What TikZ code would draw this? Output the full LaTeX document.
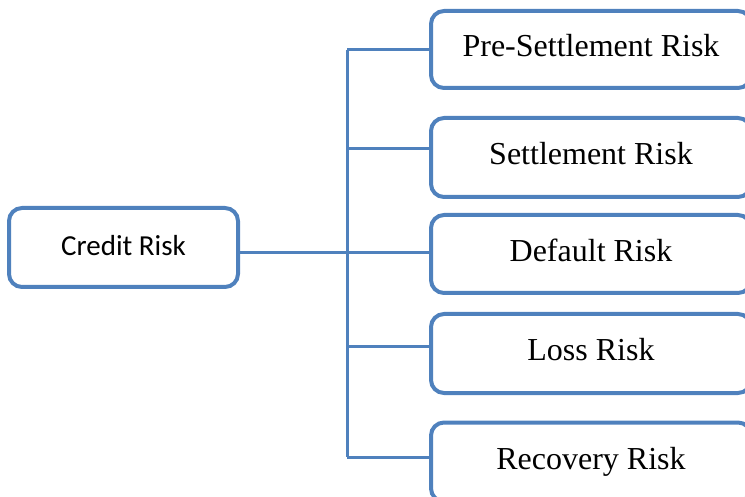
\documentclass[tikz,border=0pt]{standalone}
\usepackage{fontspec}
\setmainfont{Liberation Serif}
\newfontfamily\calib{Carlito}
\definecolor{boxblue}{RGB}{79,129,189}
\newcommand{\uptext}[1]{\raisebox{8pt}{#1}}
\tikzset{
  riskbox/.style={draw=boxblue, line width=4pt, rounded corners=13pt, fill=white,
    minimum width=320pt, inner sep=0pt, font=\fontsize{32}{36}\selectfont},
  mainbox/.style={draw=boxblue, line width=4pt, rounded corners=13pt, fill=white,
    minimum width=229pt, minimum height=79pt, inner sep=0pt, font=\calib\fontsize{29}{34}\selectfont},
  link/.style={draw=boxblue, line width=3pt}
}
\begin{document}
\begin{tikzpicture}[x=1pt,y=-1pt]
\useasboundingbox (0,0) rectangle (745,497);
\clip (0,0) rectangle (745,497);
\node[mainbox] (credit) at (123.5,247.5) {\raisebox{4pt}{Credit Risk}};
\node[riskbox, minimum height=77pt] (pre) at (591,49.5) {\uptext{Pre-Settlement Risk}};
\node[riskbox, minimum height=79pt] (set) at (591,157.5) {\uptext{Settlement Risk}};
\node[riskbox, minimum height=78pt] (def) at (591,254) {\uptext{Default Risk}};
\node[riskbox, minimum height=79pt] (loss) at (591,353.5) {\uptext{Loss Risk}};
\node[riskbox, minimum height=79pt] (rec) at (591,462) {\uptext{Recovery Risk}};
\coordinate (j1) at (347,50);
\coordinate (j2) at (347,149);
\coordinate (j3) at (347,253);
\coordinate (j4) at (347,347);
\coordinate (j5) at (347,457);
\draw[link] (j1) -- (j5);
\draw[link] (credit.east |- j3) -- (j3);
\draw[link] (j1) -- (j1 -| pre.west);
\draw[link] (j2) -- (j2 -| set.west);
\draw[link] (j3) -- (j3 -| def.west);
\draw[link] (j4) -- (j4 -| loss.west);
\draw[link] (j5) -- (j5 -| rec.west);
\end{tikzpicture}
\end{document}
